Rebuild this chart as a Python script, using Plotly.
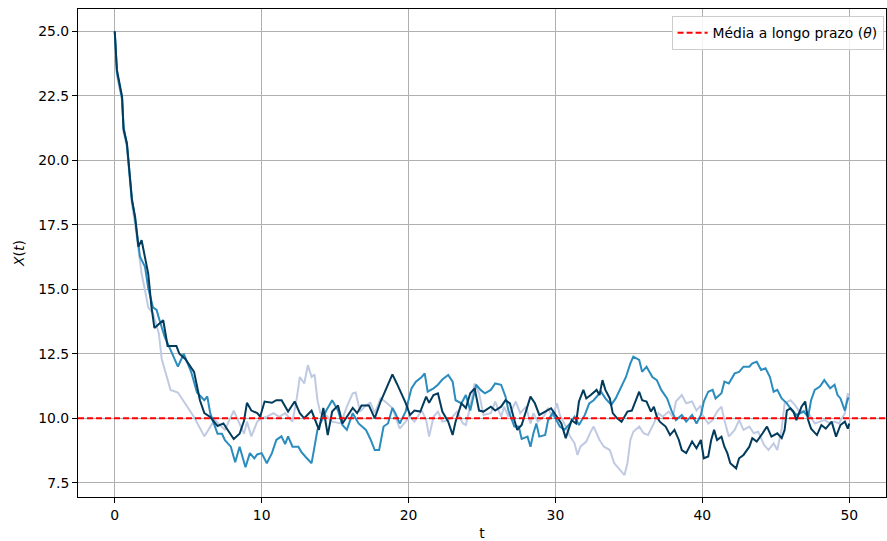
import plotly.graph_objects as go

theta = 10.0

t_light = [0, 0.15, 0.5, 0.6, 0.83, 1.05, 1.17, 1.39, 1.61, 1.83, 2.06, 2.28, 2.6, 3.0, 3.2, 3.8, 4.3, 5.0, 5.4, 6.1, 6.8, 7.5, 8.1, 8.8, 9.0, 9.3, 9.7, 10.0, 10.35, 10.8, 11.2, 11.6, 12.1, 12.4, 12.6, 12.9, 13.15, 13.4, 13.6, 13.8, 14.0, 14.4, 14.8, 15.4, 15.8, 16.2, 16.4, 16.7, 17.1, 17.4, 17.7, 18.1, 18.4, 18.9, 19.2, 19.4, 19.8, 20.1, 20.4, 20.9, 21.2, 21.4, 21.7, 22.0, 22.3, 22.7, 23.0, 23.3, 23.7, 23.9, 24.2, 24.5, 24.8, 25.1, 25.6, 25.9, 26.3, 26.5, 26.8, 27.3, 27.6, 28.0, 28.3, 28.5, 28.8, 29.2, 29.5, 29.8, 30.1, 30.3, 30.6, 31.0, 31.3, 31.5, 31.7, 32.1, 32.4, 32.6, 33.0, 33.3, 33.7, 34.0, 34.3, 34.7, 34.9, 35.1, 35.3, 35.7, 36.0, 36.3, 36.7, 37.0, 37.3, 37.7, 38.0, 38.2, 38.6, 38.9, 39.3, 39.6, 39.9, 40.0, 40.4, 40.7, 41.0, 41.3, 41.5, 41.8, 42.2, 42.5, 42.8, 43.2, 43.5, 43.8, 44.2, 44.5, 44.85, 45.1, 45.4, 45.6, 46.0, 46.3, 46.6, 47.0, 47.3, 47.65, 48.0, 48.3, 48.7, 49.0, 49.3, 49.7, 49.9, 50.0]
x_light = [25.0, 23.3, 22.3, 21.1, 20.5, 19.2, 18.3, 17.5, 16.6, 15.6, 14.97, 14.3, 14.07, 13.3, 12.3, 11.1, 11.0, 10.4, 10.05, 9.3, 9.94, 9.55, 10.3, 9.4, 9.87, 9.3, 9.87, 10.0, 10.06, 10.2, 10.06, 10.2, 9.87, 10.8, 11.6, 11.35, 12.06, 11.6, 11.7, 10.7, 10.2, 10.1, 9.87, 9.8, 10.45, 10.97, 11.0, 10.26, 10.5, 10.6, 10.2, 10.77, 10.65, 10.4, 9.87, 9.6, 9.87, 10.06, 9.87, 10.3, 9.93, 9.29, 10.06, 10.26, 9.87, 9.93, 10.06, 10.26, 9.8, 9.74, 10.45, 11.35, 10.97, 10.13, 10.2, 10.65, 10.06, 10.45, 10.06, 10.65, 10.2, 10.45, 9.8, 10.2, 9.87, 10.06, 10.4, 10.06, 10.58, 10.13, 9.8, 9.29, 9.03, 8.58, 8.9, 9.1, 9.48, 9.68, 9.16, 8.9, 8.77, 8.26, 8.06, 7.8, 8.26, 9.16, 9.48, 9.68, 9.42, 9.35, 9.8, 10.2, 10.06, 10.26, 10.06, 10.65, 10.9, 10.58, 10.65, 10.3, 10.5, 10.13, 9.8, 9.93, 10.26, 10.45, 9.93, 9.29, 9.55, 9.93, 9.55, 9.68, 9.42, 9.48, 8.97, 8.77, 9.03, 8.77, 9.6, 10.58, 10.7, 10.52, 10.26, 10.3, 10.13, 9.8, 9.87, 9.93, 9.8, 9.87, 9.8, 10.2, 10.97, 10.65]

t_mid = [0, 0.15, 0.5, 0.6, 0.83, 1.05, 1.17, 1.39, 1.61, 1.72, 2.06, 2.28, 2.6, 2.85, 3.0, 3.4, 3.8, 4.3, 4.7, 5.2, 5.6, 6.1, 6.3, 6.5, 7.0, 7.3, 7.5, 7.9, 8.2, 8.5, 8.9, 9.2, 9.5, 9.7, 10.0, 10.35, 10.7, 11.0, 11.35, 11.6, 11.8, 12.1, 12.5, 12.7, 13.0, 13.4, 13.6, 13.8, 14.0, 14.4, 14.8, 15.2, 15.5, 15.8, 16.2, 16.6, 17.1, 17.4, 17.7, 18.0, 18.3, 18.6, 18.9, 19.1, 19.4, 19.8, 20.2, 20.5, 20.9, 21.1, 21.3, 21.7, 22.0, 22.3, 22.7, 23.0, 23.2, 23.6, 23.9, 24.2, 24.6, 24.9, 25.2, 25.6, 25.9, 26.3, 26.6, 26.8, 27.2, 27.5, 27.7, 28.1, 28.3, 28.5, 28.7, 28.9, 29.3, 29.5, 29.8, 30.3, 30.6, 31.0, 31.3, 31.6, 32.0, 32.3, 32.6, 33.1, 33.4, 33.8, 34.1, 34.4, 34.8, 35.1, 35.3, 35.7, 35.9, 36.2, 36.6, 36.9, 37.2, 37.6, 37.9, 38.2, 38.6, 38.9, 39.3, 39.6, 39.9, 40.1, 40.4, 40.7, 40.9, 41.3, 41.5, 41.8, 42.2, 42.5, 42.8, 43.2, 43.4, 43.7, 44.0, 44.3, 44.6, 44.85, 45.1, 45.4, 45.75, 46.1, 46.4, 46.9, 47.2, 47.4, 47.65, 48.0, 48.3, 48.7, 49.0, 49.2, 49.4, 49.7, 49.9, 50.0]
x_mid = [25.0, 23.4, 22.4, 21.3, 20.6, 19.3, 18.5, 17.7, 16.8, 16.26, 15.87, 15.05, 14.3, 14.2, 13.9, 13.15, 12.65, 12.0, 12.5, 11.8, 11.0, 10.7, 10.85, 10.2, 9.4, 9.4, 9.15, 8.9, 8.3, 8.9, 8.1, 8.65, 8.45, 8.6, 8.65, 8.26, 8.65, 9.16, 9.3, 9.0, 9.3, 8.9, 8.9, 8.7, 8.5, 8.26, 8.9, 9.55, 9.8, 10.3, 10.7, 10.3, 9.74, 9.55, 10.2, 9.8, 9.55, 9.2, 8.77, 8.77, 9.68, 9.8, 10.4, 10.2, 9.8, 10.26, 11.16, 11.42, 11.6, 11.74, 11.03, 11.16, 11.3, 11.5, 11.68, 11.42, 10.7, 10.58, 10.9, 10.3, 11.3, 11.1, 10.97, 11.1, 11.35, 11.3, 10.84, 10.3, 9.68, 9.68, 9.2, 9.29, 8.9, 9.42, 9.8, 9.29, 9.35, 9.93, 10.2, 9.68, 9.55, 9.8, 10.06, 9.74, 10.13, 10.58, 10.7, 11.03, 10.77, 10.52, 10.77, 11.1, 11.6, 12.13, 12.39, 12.26, 11.8, 12.0, 11.6, 11.48, 11.1, 10.77, 10.3, 9.93, 10.13, 9.87, 10.13, 9.8, 10.13, 10.65, 11.03, 11.1, 10.77, 10.97, 11.42, 11.35, 11.74, 11.8, 12.0, 12.0, 12.13, 12.19, 11.87, 11.94, 11.6, 11.03, 11.1, 10.77, 10.58, 10.3, 10.13, 10.26, 10.06, 10.7, 11.1, 11.23, 11.48, 11.16, 11.3, 10.9, 10.77, 10.3, 10.77, 10.77]

t_dark = [0, 0.15, 0.5, 0.6, 0.83, 1.05, 1.17, 1.39, 1.61, 1.83, 2.28, 2.5, 2.7, 3.3, 3.6, 4.2, 4.4, 4.8, 5.4, 5.8, 6.1, 6.5, 7.0, 7.4, 8.1, 8.5, 8.8, 9.0, 9.3, 9.7, 9.9, 10.2, 10.7, 11.0, 11.36, 11.8, 12.25, 12.6, 12.9, 13.4, 13.7, 13.9, 14.2, 14.5, 14.8, 15.2, 15.5, 16.2, 16.5, 16.8, 17.3, 17.7, 18.1, 18.5, 18.9, 19.2, 19.5, 19.8, 20.1, 20.4, 20.8, 21.2, 21.4, 21.7, 22.0, 22.3, 22.7, 23.0, 23.2, 23.6, 23.9, 24.2, 24.5, 24.8, 25.1, 25.6, 25.9, 26.3, 26.6, 26.9, 27.2, 27.4, 27.7, 27.9, 28.3, 28.6, 28.9, 29.3, 29.7, 30.1, 30.4, 30.7, 31.1, 31.4, 31.6, 31.9, 32.1, 32.4, 32.8, 33.0, 33.2, 33.4, 33.7, 33.9, 34.2, 34.5, 34.9, 35.2, 35.4, 35.7, 35.9, 36.2, 36.5, 36.7, 36.9, 37.1, 37.5, 37.8, 38.1, 38.4, 38.6, 38.9, 39.3, 39.6, 39.9, 40.1, 40.4, 40.6, 40.8, 41.0, 41.3, 41.5, 41.7, 41.9, 42.3, 42.5, 42.8, 43.2, 43.4, 43.7, 44.1, 44.4, 44.7, 45.1, 45.4, 45.6, 45.75, 46.0, 46.2, 46.4, 46.75, 47.0, 47.2, 47.4, 47.8, 48.1, 48.4, 48.8, 49.1, 49.4, 49.7, 49.9, 50.0]
x_dark = [25.0, 23.5, 22.46, 21.2, 20.66, 19.36, 18.46, 17.8, 16.65, 16.9, 15.6, 14.33, 13.5, 13.8, 12.8, 12.8, 12.5, 12.3, 11.8, 10.7, 10.2, 10.05, 9.7, 9.8, 9.2, 9.4, 9.9, 10.6, 10.3, 10.2, 10.06, 10.65, 10.6, 10.7, 10.7, 10.26, 10.65, 10.2, 10.0, 10.3, 9.8, 9.55, 10.4, 9.35, 10.26, 10.5, 9.8, 10.4, 10.2, 10.5, 10.5, 10.0, 10.65, 11.2, 11.7, 11.35, 10.97, 10.6, 10.13, 10.3, 10.26, 10.84, 10.6, 10.9, 10.97, 10.26, 9.87, 9.35, 9.87, 10.58, 10.4, 10.97, 11.16, 10.3, 10.26, 10.45, 10.3, 10.45, 10.7, 10.58, 9.93, 9.55, 9.74, 10.13, 10.84, 10.58, 10.13, 10.26, 10.39, 10.06, 9.8, 9.23, 9.93, 9.8, 10.65, 11.1, 10.77, 10.9, 11.1, 10.9, 11.48, 11.1, 10.77, 10.2, 10.0, 9.87, 10.26, 10.3, 10.58, 11.03, 10.7, 10.65, 10.26, 10.45, 10.06, 9.87, 9.68, 9.35, 9.55, 9.16, 8.77, 8.65, 9.1, 8.84, 9.16, 8.45, 8.52, 9.16, 9.55, 9.16, 9.29, 8.9, 8.65, 8.26, 8.06, 8.45, 8.58, 8.9, 9.23, 9.1, 9.42, 9.68, 9.29, 9.42, 9.23, 9.55, 10.3, 10.39, 10.26, 9.93, 10.45, 10.65, 9.93, 9.6, 9.35, 9.74, 9.6, 9.87, 9.29, 9.74, 9.87, 9.6, 9.8]

x_ticks = [0, 10, 20, 30, 40, 50]
y_ticks = [7.5, 10.0, 12.5, 15.0, 17.5, 20.0, 22.5, 25.0]
legend_label = "Média a longo prazo (<i>θ</i>)"

colors = ["#c0cae2", "#2b8cbe", "#033b5c"]

fig = go.Figure()
for tt, xx, c in [(t_light, x_light, colors[0]), (t_mid, x_mid, colors[1]), (t_dark, x_dark, colors[2])]:
    fig.add_trace(go.Scatter(x=tt, y=xx, mode="lines", line=dict(color=c, width=2),
                             showlegend=False, hoverinfo="skip"))

fig.add_hline(y=theta, line=dict(color="red", width=2, dash="6px,3px"), layer="above")
fig.add_trace(go.Scatter(x=[None], y=[None], mode="lines",
                         line=dict(color="red", width=2, dash="6px,3px"),
                         name=legend_label, showlegend=True))

axis_common = dict(showline=True, mirror=True, linecolor="black", linewidth=1,
                   ticks="outside", ticklen=5, tickcolor="black", tickwidth=1,
                   showgrid=True, gridcolor="#b0b0b0", gridwidth=1, zeroline=False,
                   automargin=False,
                   tickfont=dict(size=13.9, color="black"))

fig.update_layout(
    width=887, height=541,
    margin=dict(l=78, r=1, t=9, b=44),
    paper_bgcolor="white", plot_bgcolor="white",
    font=dict(family="DejaVu Sans", color="black"),
    xaxis=dict(range=[-2.5, 52.5], tickvals=x_ticks, ticktext=[str(v) for v in x_ticks],
               title=dict(text="t", font=dict(size=13.9), standoff=8), **axis_common),
    yaxis=dict(range=[6.95, 25.86], tickvals=y_ticks, ticktext=[f"{v:.1f}" for v in y_ticks],
               title=dict(text="<i>X</i>(<i>t</i>)", font=dict(size=13.9), standoff=10), **axis_common),
    legend=dict(x=0.997, y=0.985, xanchor="right", yanchor="top",
                bgcolor="rgba(255,255,255,0.85)", bordercolor="#cccccc", borderwidth=1,
                font=dict(size=13.9), itemwidth=30),
    showlegend=True,
)

fig.write_html("out.html", config={"displayModeBar": False},
               post_script="document.body.style.margin='0';document.body.style.padding='0';")
